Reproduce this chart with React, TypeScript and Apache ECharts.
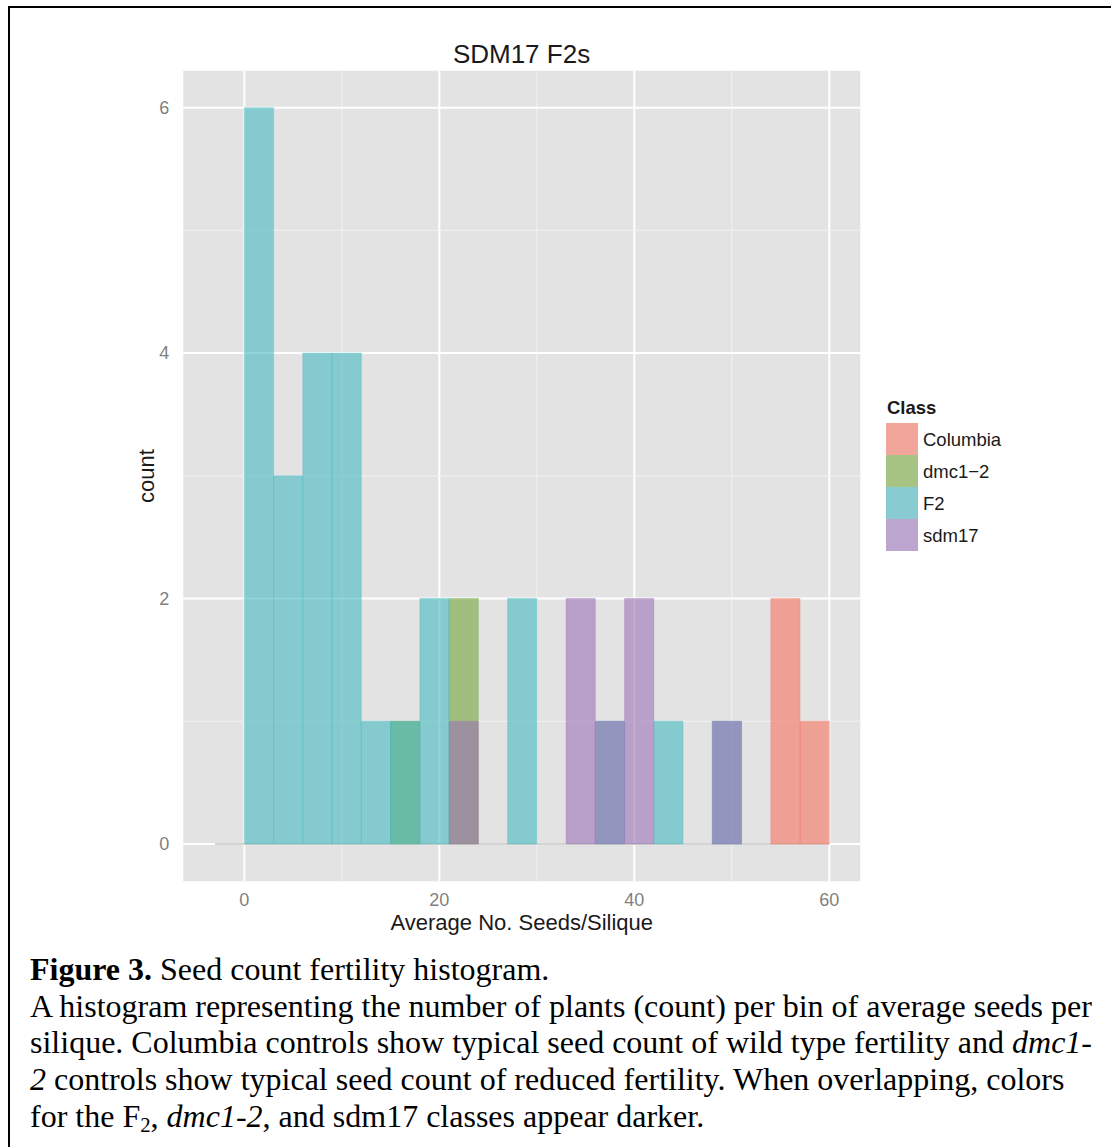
import React, { useEffect, useRef } from "react";
import * as echarts from "echarts";

// ---- data ----
const binStarts = [0, 3, 6, 9, 12, 15, 18, 21, 24, 27, 30, 33, 36, 39, 42, 45, 48, 51, 54, 57];
const binWidth = 3;
const classNames = ["Columbia", "dmc1\u22122", "F2", "sdm17"];
const columbiaCounts = [0, 0, 0, 0, 0, 0, 0, 0, 0, 0, 0, 0, 0, 0, 0, 0, 0, 0, 2, 1];
const dmcCounts = [0, 0, 0, 0, 0, 1, 0, 2, 0, 0, 0, 0, 0, 0, 0, 0, 0, 0, 0, 0];
const f2Counts = [6, 3, 4, 4, 1, 1, 2, 0, 0, 2, 0, 0, 1, 0, 1, 0, 1, 0, 0, 0];
const sdmCounts = [0, 0, 0, 0, 0, 0, 0, 1, 0, 0, 0, 2, 1, 2, 0, 0, 1, 0, 0, 0];
const xTickValues = [0, 20, 40, 60];
const xMinorValues = [10, 30, 50];
const yTickValues = [0, 2, 4, 6];
const yMinorValues = [1, 3, 5];
const zeroLineRange = [-3, 60];

const classCounts = [columbiaCounts, dmcCounts, f2Counts, sdmCounts];
const barFills = [
  "rgba(246,115,95,0.6)",
  "rgba(115,165,56,0.6)",
  "rgba(68,185,191,0.6)",
  "rgba(155,115,181,0.6)",
];
const legendFills = ["#F2A59B", "#A7C384", "#88CCD1", "#BCA6CF"];

const SANS = "'Liberation Sans', Arial, Helvetica, sans-serif";

function Chart() {
  const ref = useRef<HTMLDivElement>(null);
  useEffect(() => {
    if (!ref.current) return;
    const chart = echarts.init(ref.current, null, { renderer: "svg" });

    const barSeries = classNames.map((name, ci) => ({
      type: "custom",
      name,
      z: 3,
      silent: true,
      itemStyle: { color: legendFills[ci] },
      data: binStarts
        .map((s, i) => [s, s + binWidth, classCounts[ci][i]])
        .filter((d) => d[2] > 0),
      renderItem: (params: any, api: any) => {
        const p0 = api.coord([api.value(0), api.value(2)]);
        const p1 = api.coord([api.value(1), 0]);
        return {
          type: "rect",
          shape: { x: p0[0], y: p0[1], width: p1[0] - p0[0], height: p1[1] - p0[1] },
          style: { fill: barFills[ci], stroke: barFills[ci], lineWidth: 0.5 },
        };
      },
    }));

    const xGrid = {
      type: "custom",
      z: 1,
      silent: true,
      data: [...xTickValues.map((v) => [v, 1]), ...xMinorValues.map((v) => [v, 0])],
      renderItem: (params: any, api: any) => {
        const cs = params.coordSys;
        const x = api.coord([api.value(0), 0])[0];
        const major = api.value(1) === 1;
        return {
          type: "line",
          shape: { x1: x, y1: cs.y, x2: x, y2: cs.y + cs.height },
          style: { stroke: major ? "#FFFFFF" : "#F2F2F2", lineWidth: major ? 2 : 1 },
        };
      },
    };
    const yGrid = {
      type: "custom",
      z: 1,
      silent: true,
      data: [...yTickValues.map((v) => [0, v, 1]), ...yMinorValues.map((v) => [0, v, 0])],
      renderItem: (params: any, api: any) => {
        const cs = params.coordSys;
        const y = api.coord([0, api.value(1)])[1];
        const major = api.value(2) === 1;
        return {
          type: "line",
          shape: { x1: cs.x, y1: y, x2: cs.x + cs.width, y2: y },
          style: { stroke: major ? "#FFFFFF" : "#F2F2F2", lineWidth: major ? 2 : 1 },
        };
      },
    };
    const zeroLine = {
      type: "line",
      z: 2,
      silent: true,
      symbol: "none",
      lineStyle: { color: "#A9A9A2", width: 1.2 },
      data: zeroLineRange.map((x) => [x, 0]),
    };

    chart.setOption({
      animation: false,
      textStyle: { fontFamily: SANS },
      grid: {
        left: 183.3,
        top: 70.7,
        width: 677,
        height: 810.6,
        show: true,
        backgroundColor: "#E3E3E3",
        borderWidth: 0,
        containLabel: false,
      },
      xAxis: {
        type: "value",
        min: -6.26,
        max: 63.18,
        axisLine: { show: false },
        splitLine: { show: false },
        axisTick: {
          show: true,
          customValues: xTickValues,
          length: 7,
          lineStyle: { color: "#7F7F7F", width: 1 },
        },
        axisLabel: {
          customValues: xTickValues,
          color: "#7F7F7F",
          fontSize: 18,
          margin: 10,
          fontFamily: SANS,
        },
      },
      yAxis: {
        type: "value",
        min: -0.304,
        max: 6.301,
        axisLine: { show: false },
        splitLine: { show: false },
        axisTick: {
          show: true,
          customValues: yTickValues,
          length: 7,
          lineStyle: { color: "#7F7F7F", width: 1 },
        },
        axisLabel: {
          customValues: yTickValues,
          color: "#7F7F7F",
          fontSize: 18,
          margin: 14,
          fontFamily: SANS,
        },
      },
      legend: {
        show: true,
        orient: "vertical",
        left: 886,
        top: 423,
        padding: 0,
        itemGap: 0,
        itemWidth: 32,
        itemHeight: 32,
        icon: "rect",
        selectedMode: false,
        textStyle: { fontSize: 18.5, color: "#1A1A1A", fontFamily: SANS },
        data: classNames.map((n, i) => ({ name: n, itemStyle: { color: legendFills[i], borderWidth: 0 } })),
      },
      graphic: [
        {
          type: "text",
          x: 521.5,
          y: 54,
          style: {
            text: "SDM17 F2s",
            fontSize: 26,
            fontFamily: SANS,
            fill: "#1A1A1A",
            textAlign: "center",
            textVerticalAlign: "middle",
          },
        },
        {
          type: "text",
          x: 521.8,
          y: 922,
          style: {
            text: "Average No. Seeds/Silique",
            fontSize: 22,
            fontFamily: SANS,
            fill: "#1A1A1A",
            textAlign: "center",
            textVerticalAlign: "middle",
          },
        },
        {
          type: "text",
          x: 146,
          y: 476,
          rotation: Math.PI / 2,
          style: {
            text: "count",
            fontSize: 22,
            fontFamily: SANS,
            fill: "#1A1A1A",
            textAlign: "center",
            textVerticalAlign: "middle",
          },
        },
        {
          type: "text",
          x: 887,
          y: 407,
          style: {
            text: "Class",
            fontSize: 18.5,
            fontWeight: "bold",
            fontFamily: SANS,
            fill: "#1A1A1A",
            textAlign: "left",
            textVerticalAlign: "middle",
          },
        },
      ],
      series: [xGrid, yGrid, zeroLine, ...barSeries],
    });
    return () => chart.dispose();
  }, []);
  return <div ref={ref} style={{ position: "absolute", left: 0, top: 0, width: 1111, height: 940 }} />;
}

const captionLine: React.CSSProperties = {
  position: "absolute",
  left: 30,
  whiteSpace: "nowrap",
  fontFamily: "'Liberation Serif', 'Times New Roman', serif",
  fontSize: 32,
  lineHeight: "36.75px",
  color: "#000",
};
const subStyle: React.CSSProperties = { fontSize: "0.65em", verticalAlign: "-0.22em", lineHeight: 0 };

export default function App() {
  const tops = [950.5, 987.5, 1024.25, 1061, 1097.5];
  return (
    <div style={{ position: "absolute", left: 0, top: 0, width: 1111, height: 1147, background: "#fff", overflow: "hidden" }}>
      <div
        style={{
          position: "absolute",
          left: 8,
          top: 6,
          width: 1200,
          height: 1200,
          borderLeft: "2px solid #000",
          borderTop: "2px solid #000",
        }}
      />
      <Chart />
      <div style={{ ...captionLine, top: tops[0] }}>
        <b>Figure 3.</b> Seed count fertility histogram.
      </div>
      <div style={{ ...captionLine, top: tops[1] }}>
        A histogram representing the number of plants (count) per bin of average seeds per
      </div>
      <div style={{ ...captionLine, top: tops[2] }}>
        silique. Columbia controls show typical seed count of wild type fertility and <i>dmc1</i>-
      </div>
      <div style={{ ...captionLine, top: tops[3] }}>
        <i>2</i> controls show typical seed count of reduced fertility. When overlapping, colors
      </div>
      <div style={{ ...captionLine, top: tops[4] }}>
        for the F<sub style={subStyle}>2</sub>, <i>dmc1-2</i>, and sdm17 classes appear darker.
      </div>
    </div>
  );
}
